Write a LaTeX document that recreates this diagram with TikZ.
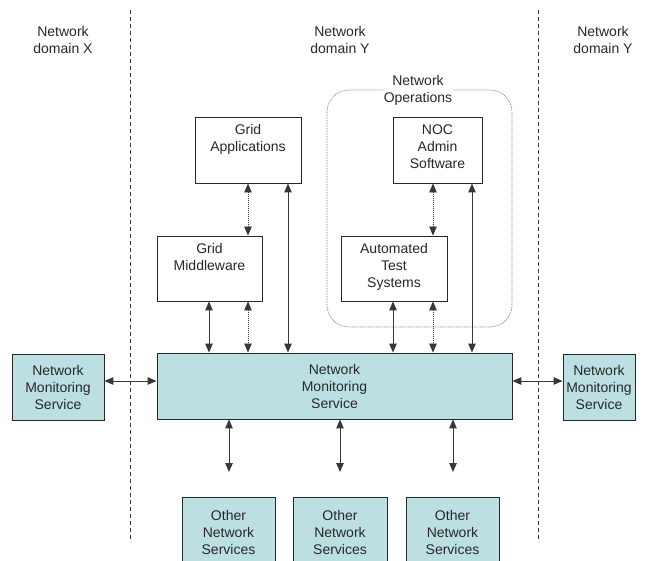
\documentclass[tikz,border=0pt]{standalone}
\usepackage{fontspec}
\setmainfont{Liberation Sans}
\usetikzlibrary{arrows.meta}
\definecolor{svcfill}{RGB}{188,224,226}
\definecolor{ink}{RGB}{40,40,40}
\definecolor{wire}{RGB}{55,55,55}
\begin{document}
\begin{tikzpicture}[x=1pt,y=-1pt,
  every node/.style={font=\fontsize{14}{17}\selectfont, text=ink, align=center},
  plainbox/.style={draw=ink, line width=0.9pt, fill=white, inner sep=0pt},
  svcbox/.style={draw=ink, line width=0.9pt, fill=svcfill, inner sep=0pt},
  boxtext/.style={anchor=north, inner sep=0pt, yshift=-8pt},
  tip/.style={{Triangle[length=9pt,width=7.5pt]}-{Triangle[length=9pt,width=7.5pt]}},
  solidlink/.style={tip, draw=wire, line width=1pt},
  dotlink/.style={tip, draw=wire, line width=0.8pt, dash pattern=on 1pt off 1pt},
  domainline/.style={draw=wire, line width=0.9pt, dash pattern=on 4pt off 3pt},
]
\useasboundingbox (0,0) rectangle (648,560);
\begin{scope}
\clip (0,0) rectangle (648,560);

% domain separators
\draw[domainline] (130,10) -- (130,542);
\draw[domainline] (538,10) -- (538,542);

% domain captions
\node (dx)  at (63,40)  {Network\\domain X};
\node (dy)  at (340,40) {Network\\domain Y};
\node (dy2) at (603,40) {Network\\domain Y};

% network operations group
\draw[draw=gray, line width=0.7pt, dash pattern=on 0.8pt off 0.8pt, rounded corners=22pt]
  (327,90) rectangle (512,327);
\node[fill=white, inner sep=1pt] (netops) at (418,90.5) {Network\\Operations};

% application side boxes
\node[plainbox, minimum width=106pt, minimum height=66pt] (ga) at (248,150) {};
\node[boxtext] at (ga.north) {Grid\\Applications};
\node[plainbox, minimum width=105pt, minimum height=65pt] (gm) at (209.5,268.5) {};
\node[boxtext] at (gm.north) {Grid\\Middleware};
\node[plainbox, minimum width=89pt, minimum height=66pt] (noc) at (437.5,150) {};
\node[boxtext] at (noc.north) {NOC\\Admin\\Software};
\node[plainbox, minimum width=106pt, minimum height=65pt] (ats) at (394,268.5) {};
\node[boxtext] at (ats.north) {Automated\\Test\\Systems};

% monitoring services
\node[svcbox, minimum width=355pt, minimum height=66pt] (nms) at (334.5,386) {Network\\Monitoring\\Service};
\node[svcbox, minimum width=92pt, minimum height=66pt] (nmsl) at (58,387) {Network\\Monitoring\\Service};
\node[svcbox, minimum width=72pt, minimum height=66pt] (nmsr) at (599,387) {Network\\Monitoring\\Service};

% other services (running off the bottom edge)
\node[svcbox, minimum width=93pt, minimum height=80pt, anchor=north] (os1) at (228.5,497) {};
\node[boxtext, yshift=-5pt] at (os1.north) {Other\\Network\\Services};
\node[svcbox, minimum width=94pt, minimum height=80pt, anchor=north] (os2) at (340,497) {};
\node[boxtext, yshift=-5pt] at (os2.north) {Other\\Network\\Services};
\node[svcbox, minimum width=93pt, minimum height=80pt, anchor=north] (os3) at (452.5,497) {};
\node[boxtext, yshift=-5pt] at (os3.north) {Other\\Network\\Services};

% vertical link positions
\coordinate (xa) at (209,0);
\coordinate (xb) at (248,0);
\coordinate (xc) at (288,0);
\coordinate (xd) at (393,0);
\coordinate (xe) at (433,0);
\coordinate (xf) at (472,0);

% links among the application side
\draw[dotlink]   (ga.south -| xb) -- (gm.north -| xb);
\draw[solidlink] (ga.south -| xc) -- (nms.north -| xc);
\draw[solidlink] (gm.south -| xa) -- (nms.north -| xa);
\draw[dotlink]   (gm.south -| xb) -- (nms.north -| xb);

% links among network operations
\draw[dotlink]   (noc.south -| xe) -- (ats.north -| xe);
\draw[solidlink] (noc.south -| xf) -- (nms.north -| xf);
\draw[solidlink] (ats.south -| xd) -- (nms.north -| xd);
\draw[dotlink]   (ats.south -| xe) -- (nms.north -| xe);

% links across domains
\draw[solidlink] (nmsl.east |- 0,381) -- (nms.west |- 0,381);
\draw[solidlink] (nms.east |- 0,381) -- (nmsr.west |- 0,381);

% links toward other services (open ended)
\coordinate (e1) at (229,472);
\coordinate (e2) at (340,472);
\coordinate (e3) at (453,472);
\draw[solidlink] (nms.south -| e1) -- (e1);
\draw[solidlink] (nms.south -| e2) -- (e2);
\draw[solidlink] (nms.south -| e3) -- (e3);
\end{scope}
\end{tikzpicture}
\end{document}
